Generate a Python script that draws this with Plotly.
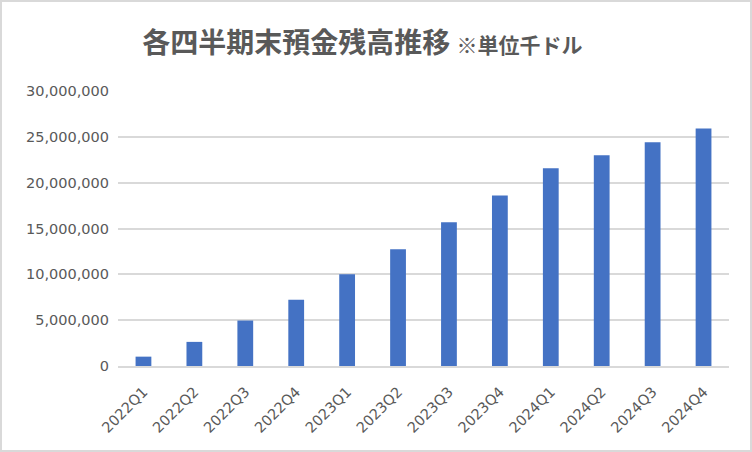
import plotly.graph_objs as go

quarters = ["2022Q1", "2022Q2", "2022Q3", "2022Q4",
            "2023Q1", "2023Q2", "2023Q3", "2023Q4",
            "2024Q1", "2024Q2", "2024Q3", "2024Q4"]

# 預金残高（千ドル）
deposits = [1020000, 2630000, 4960000, 7230000,
            10000000, 12730000, 15670000, 18600000,
            21560000, 22980000, 24400000, 25920000]

y_ticks = [0, 5000000, 10000000, 15000000, 20000000, 25000000, 30000000]

grid_color = "#d9d9d9"
text_color = "#595959"

trace = go.Bar(
    x=quarters,
    y=deposits,
    marker={"color": "#4472c4", "line": {"width": 0}},
    hoverinfo="x+y")

layout = go.Layout(
    width=752,
    height=452,
    margin={"l": 118, "r": 23, "t": 91, "b": 86},
    paper_bgcolor="white",
    plot_bgcolor="white",
    showlegend=False,
    bargap=0.69,
    font={"family": "DejaVu Sans", "size": 14.5, "color": text_color},
    title={
        "text": "<b>各四半期末預金残高推移</b> <b><span style='font-size:21px'>※単位千ドル</span></b>",
        "font": {"family": "Noto Sans CJK JP", "size": 28, "color": text_color},
        "x": 0.482,
        "xanchor": "center",
        "xref": "container",
        "y": 0.905,
        "yanchor": "middle",
        "yref": "container"},
    xaxis={
        "automargin": False,
        "tickangle": -45,
        "showgrid": False,
        "showline": True,
        "linecolor": grid_color,
        "linewidth": 1.5,
        "ticks": "",
        "ticklabelstandoff": 10,
        "tickfont": {"family": "DejaVu Sans", "size": 14.5, "color": text_color}},
    yaxis={
        "automargin": False,
        "range": [0, 30000000],
        "tickvals": y_ticks,
        "tickformat": ",d",
        "showgrid": True,
        "gridcolor": grid_color,
        "gridwidth": 1.5,
        "zeroline": False,
        "showline": False,
        "ticks": "",
        "ticklabelstandoff": 8,
        "tickfont": {"family": "DejaVu Sans", "size": 14.5, "color": text_color}},
    shapes=[{
        "type": "rect",
        "xref": "paper", "yref": "paper",
        "x0": -0.1915, "x1": 1.036,
        "y0": -0.309, "y1": 1.327,
        "line": {"color": grid_color, "width": 2},
        "fillcolor": "rgba(0,0,0,0)",
        "layer": "below"}])

fig = go.Figure(data=[trace], layout=layout)

# page body has an 8px default margin; drop it so the figure fills the window
fig.write_html("out.html",
               config={"displayModeBar": False},
               post_script="document.body.style.margin='0';document.body.style.overflow='hidden';")
